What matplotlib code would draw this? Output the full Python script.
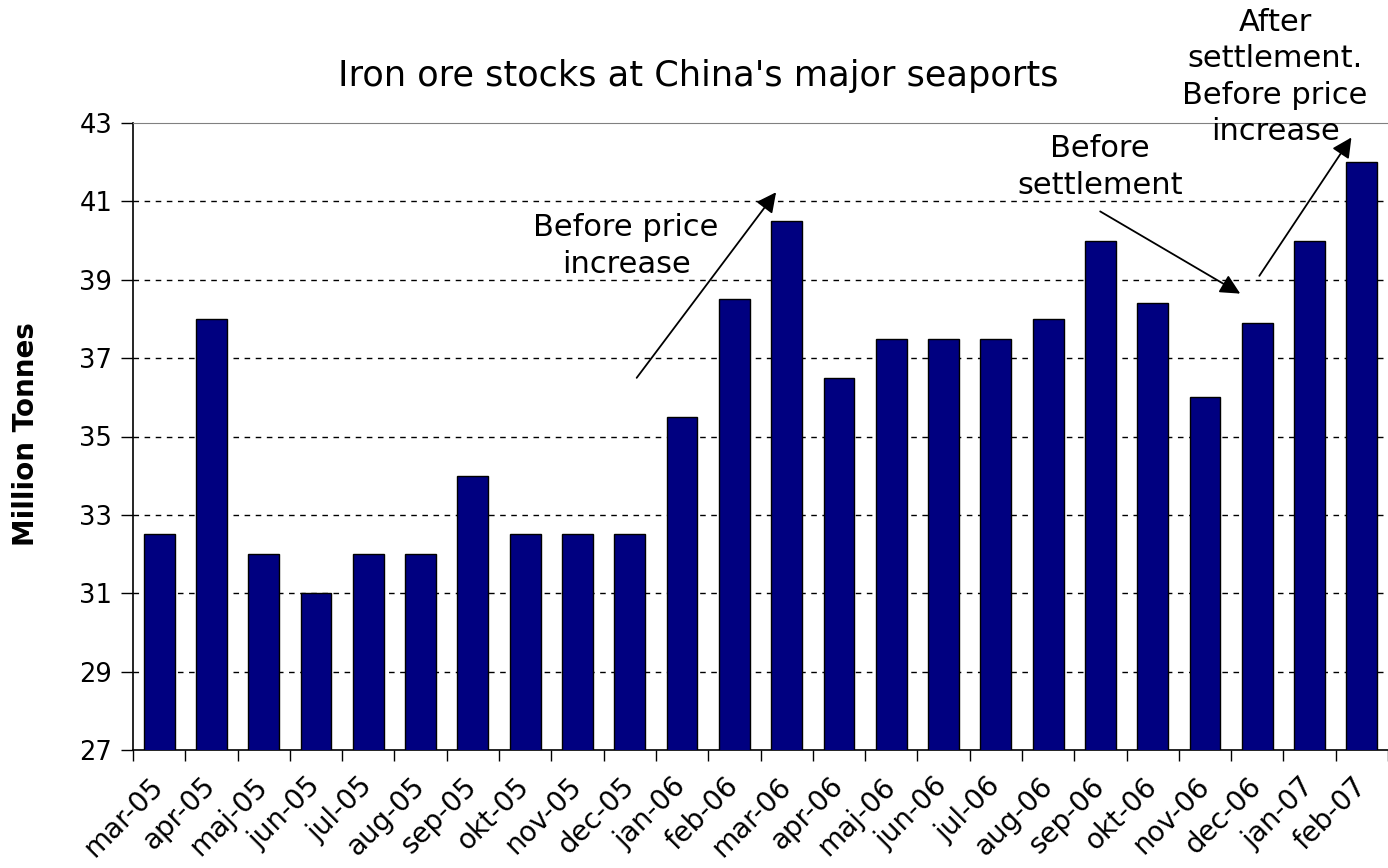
import matplotlib.pyplot as plt

months = ['mar-05', 'apr-05', 'maj-05', 'jun-05', 'jul-05', 'aug-05', 'sep-05', 'okt-05',
          'nov-05', 'dec-05', 'jan-06', 'feb-06', 'mar-06', 'apr-06', 'maj-06', 'jun-06',
          'jul-06', 'aug-06', 'sep-06', 'okt-06', 'nov-06', 'dec-06', 'jan-07', 'feb-07']
stocks = [32.5, 38.0, 32.0, 31.0, 32.0, 32.0, 34.0, 32.5, 32.5, 32.5, 35.5, 38.5,
          40.5, 36.5, 37.5, 37.5, 37.5, 38.0, 40.0, 38.4, 36.0, 37.9, 40.0, 42.0]
yticks = [27, 29, 31, 33, 35, 37, 39, 41, 43]

fig = plt.figure(figsize=(13.88, 8.68), dpi=100)
ax = fig.add_axes([133/1388, 118/868, 1 - 133/1388, (750-123)/868])

x = list(range(len(months)))
ax.bar(x, stocks, width=0.59, color='#000080', edgecolor='black', linewidth=1, zorder=3)

ax.set_xlim(-0.5, len(months) - 0.5)
ax.set_ylim(27, 43)
ax.set_yticks(yticks)
ax.set_yticklabels([str(v) for v in yticks], fontsize=18.5)
for v in yticks[1:-1]:
    ax.axhline(v, color='black', lw=1, ls=(0, (4, 4)), zorder=1)

# ticks between categories, labels at centers
ax.set_xticks([i - 0.5 for i in range(len(months) + 1)])
ax.set_xticklabels([])
ax.set_xticks(x, minor=True)
ax.set_xticklabels(months, minor=True, rotation=45, ha='right', va='center',
                   rotation_mode='anchor', fontsize=20)
ax.tick_params(axis='x', which='minor', length=0, pad=23)
ax.tick_params(axis='x', which='major', length=8, width=1)
ax.tick_params(axis='y', length=9, width=1, pad=6)

ax.spines['right'].set_visible(False)
ax.spines['top'].set_color('#808080')
ax.spines['left'].set_linewidth(1.2)
ax.spines['bottom'].set_linewidth(1.2)

fig.text(26/1388, 1 - 434/868, 'Million Tonnes', rotation=90, ha='center', va='center',
         fontsize=20, fontweight='bold')
fig.text(0.503, 0.913, "Iron ore stocks at China's major seaports", ha='center', va='center',
         fontsize=25.3)

arrow = dict(arrowstyle='-|>', color='black', lw=1.3, mutation_scale=30)
ax.annotate('', xy=(11.83, 41.29), xytext=(9.1, 36.44), arrowprops=arrow)
ax.annotate('', xy=(20.72, 38.61), xytext=(17.95, 40.78), arrowprops=arrow)
ax.annotate('', xy=(22.83, 42.69), xytext=(21.01, 39.04), arrowprops=arrow, annotation_clip=False)

ax.text(8.93, 39.86, 'Before price\nincrease', ha='center', va='center', fontsize=22,
        linespacing=1.32)
ax.text(17.99, 41.88, 'Before\nsettlement', ha='center', va='center', fontsize=22,
        linespacing=1.32)
ax.text(21.34, 44.17, 'After\nsettlement.\nBefore price\nincrease', ha='center', va='center',
        fontsize=22, linespacing=1.32, clip_on=False)

fig.savefig('out.png', dpi=100)
